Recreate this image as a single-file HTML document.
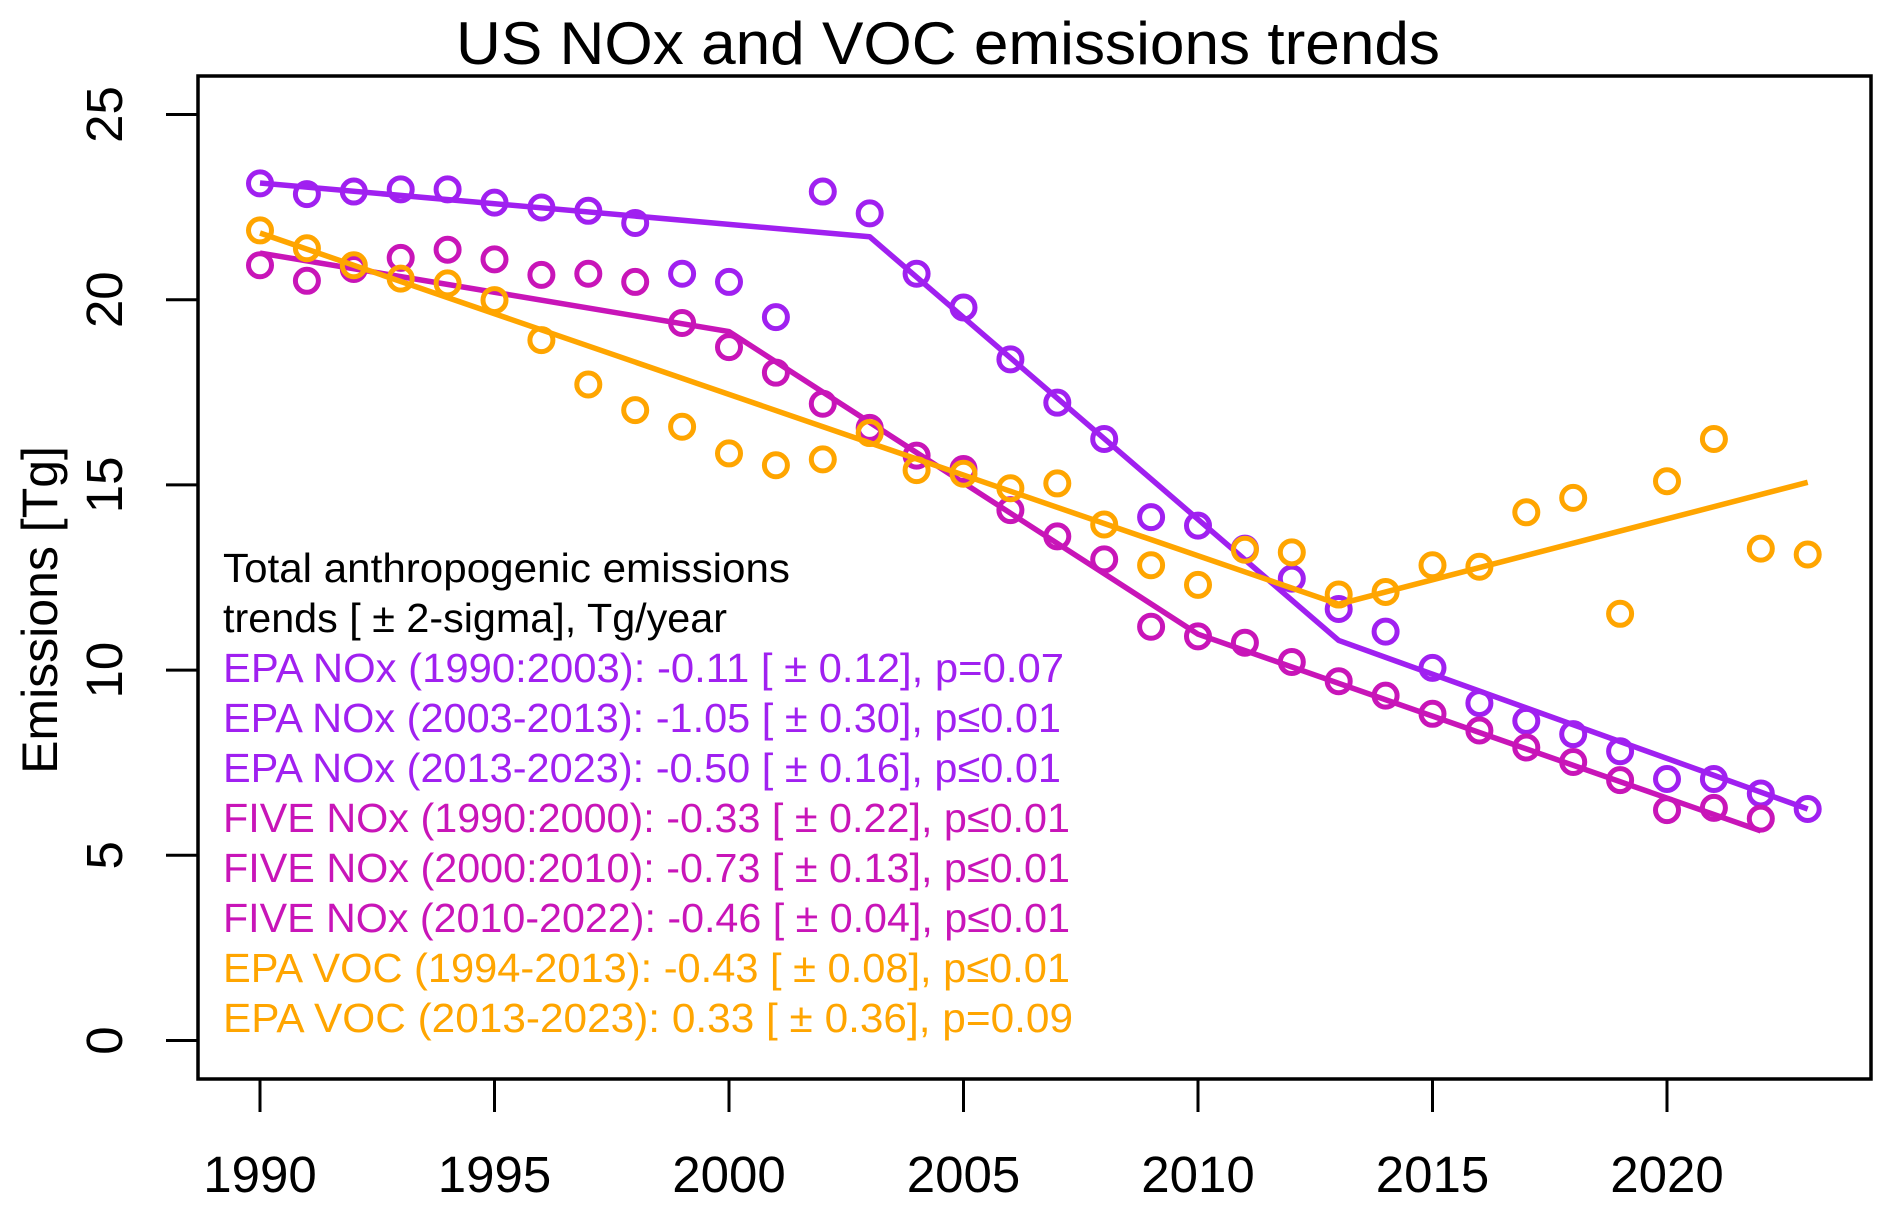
<!DOCTYPE html>
<html><head><meta charset="utf-8"><style>
html,body{margin:0;padding:0;background:#fff;}
svg{display:block;font-family:"Liberation Sans",Arial,sans-serif;}
</style></head><body>
<svg id="chart" width="1892" height="1212" viewBox="0 0 1892 1212">
<text x="948" y="64" text-anchor="middle" font-size="60" textLength="984" lengthAdjust="spacingAndGlyphs">US NOx and VOC emissions trends</text>
<text transform="translate(57,610) rotate(-90)" text-anchor="middle" font-size="50">Emissions [Tg]</text>
<rect x="198" y="76" width="1673" height="1003" fill="none" stroke="#000" stroke-width="3.5"/>
<g id="axes"></g>
<g id="series"></g>
<g id="legend" font-size="41">
<text x="223" y="582" fill="#000" textLength="567" lengthAdjust="spacingAndGlyphs">Total anthropogenic emissions</text>
<text x="223" y="632" fill="#000" textLength="504" lengthAdjust="spacingAndGlyphs">trends [ ± 2-sigma], Tg/year</text>
<text x="223" y="682" fill="#A020F0" textLength="841" lengthAdjust="spacingAndGlyphs">EPA NOx (1990:2003): -0.11 [ ± 0.12], p=0.07</text>
<text x="223" y="732" fill="#A020F0" textLength="838" lengthAdjust="spacingAndGlyphs">EPA NOx (2003-2013): -1.05 [ ± 0.30], p≤0.01</text>
<text x="223" y="782" fill="#A020F0" textLength="838" lengthAdjust="spacingAndGlyphs">EPA NOx (2013-2023): -0.50 [ ± 0.16], p≤0.01</text>
<text x="223" y="832" fill="#C815B8" textLength="847" lengthAdjust="spacingAndGlyphs">FIVE NOx (1990:2000): -0.33 [ ± 0.22], p≤0.01</text>
<text x="223" y="882" fill="#C815B8" textLength="847" lengthAdjust="spacingAndGlyphs">FIVE NOx (2000:2010): -0.73 [ ± 0.13], p≤0.01</text>
<text x="223" y="932" fill="#C815B8" textLength="847" lengthAdjust="spacingAndGlyphs">FIVE NOx (2010-2022): -0.46 [ ± 0.04], p≤0.01</text>
<text x="223" y="982" fill="#FFA500" textLength="847" lengthAdjust="spacingAndGlyphs">EPA VOC (1994-2013): -0.43 [ ± 0.08], p≤0.01</text>
<text x="223" y="1032" fill="#FFA500" textLength="850" lengthAdjust="spacingAndGlyphs">EPA VOC (2013-2023):  0.33 [ ± 0.36], p=0.09</text>
</g>
</svg>
<script>
const years = [1990,1991,1992,1993,1994,1995,1996,1997,1998,1999,2000,2001,2002,2003,2004,2005,2006,2007,2008,2009,2010,2011,2012,2013,2014,2015,2016,2017,2018,2019,2020,2021,2022,2023];
const epaNox = [23.14,22.85,22.92,22.98,22.98,22.62,22.49,22.40,22.07,20.70,20.48,19.53,22.92,22.33,20.70,19.79,18.39,17.22,16.24,14.13,13.90,13.28,12.47,11.65,11.04,10.06,9.11,8.63,8.27,7.81,7.06,7.06,6.67,6.25];
const fiveYears = [1990,1991,1992,1993,1994,1995,1996,1997,1998,1999,2000,2001,2002,2003,2004,2005,2006,2007,2008,2009,2010,2011,2012,2013,2014,2015,2016,2017,2018,2019,2020,2021,2022];
const fiveNox = [20.93,20.51,20.83,21.13,21.35,21.09,20.67,20.70,20.48,19.37,18.72,18.03,17.19,16.54,15.79,15.43,14.32,13.61,12.99,11.17,10.91,10.74,10.22,9.70,9.31,8.82,8.37,7.91,7.52,7.03,6.22,6.28,5.99];
const epaVoc = [21.87,21.39,20.93,20.57,20.44,19.99,18.91,17.71,17.02,16.57,15.85,15.53,15.69,16.4,15.40,15.30,14.91,15.04,13.93,12.83,12.30,13.25,13.18,12.04,12.11,12.83,12.79,14.26,14.65,11.52,15.10,16.24,13.28,13.12];
const epaNoxTrendX = [1990,2003,2013,2023];
const epaNoxTrendY = [23.15,21.7,10.8,6.25];
const fiveTrendX = [1990,2000,2010,2022];
const fiveTrendY = [21.26,19.14,10.97,5.66];
const vocTrendX = [1990,2013,2023];
const vocTrendY = [21.8,11.78,15.07];
const xTicks = [1990,1995,2000,2005,2010,2015,2020];
const yTicks = [0,5,10,15,20,25];

const NS = "http://www.w3.org/2000/svg";
const xs = v => 260 + (v - 1990) * 46.9;
const ys = v => 1040.5 - v * 37.04;
function mk(tag, attrs, parent){ const e=document.createElementNS(NS,tag); for(const k in attrs) e.setAttribute(k,attrs[k]); parent.appendChild(e); return e; }
const axes = document.getElementById('axes');
xTicks.forEach(t=>{
  const l = mk('line',{x1:xs(t),x2:xs(t),y1:1079,y2:1112,stroke:'#000','stroke-width':3},axes);
  
  
  const tx = mk('text',{x:xs(t),y:1192,'text-anchor':'middle','font-size':51},axes);
  tx.textContent = t;
  
  
});
yTicks.forEach(t=>{
  const l = mk('line',{x1:166,x2:198,y1:ys(t),y2:ys(t),stroke:'#000','stroke-width':3},axes);
  
  
  const tx = mk('text',{transform:`translate(122,${ys(t)}) rotate(-90)`,'text-anchor':'middle','font-size':51},axes);
  tx.textContent = t;
  
  
});
const ser = document.getElementById('series');
function trend(xa, ya, color, name){
  const p = mk('polyline',{points:xa.map((x,i)=>xs(x)+','+ys(ya[i])).join(' '),fill:'none',stroke:color,'stroke-width':5.5,'stroke-linejoin':'round'},ser);
  
  
}
function pts(xa, ya, color, name){
  xa.forEach((x,i)=>{
    const c = mk('circle',{cx:xs(x),cy:ys(ya[i]),r:11.5,fill:'none',stroke:color,'stroke-width':5},ser);
    
    
  });
}
const P='#A020F0', M='#C815B8', O='#FFA500';
pts(years, epaNox, P, 'epa-nox-point');
trend(epaNoxTrendX, epaNoxTrendY, P, 'epa-nox-trend-line');
pts(fiveYears, fiveNox, M, 'five-nox-point');
trend(fiveTrendX, fiveTrendY, M, 'five-nox-trend-line');
pts(years, epaVoc, O, 'epa-voc-point');
trend(vocTrendX, vocTrendY, O, 'epa-voc-trend-line');
</script>
</body></html>
